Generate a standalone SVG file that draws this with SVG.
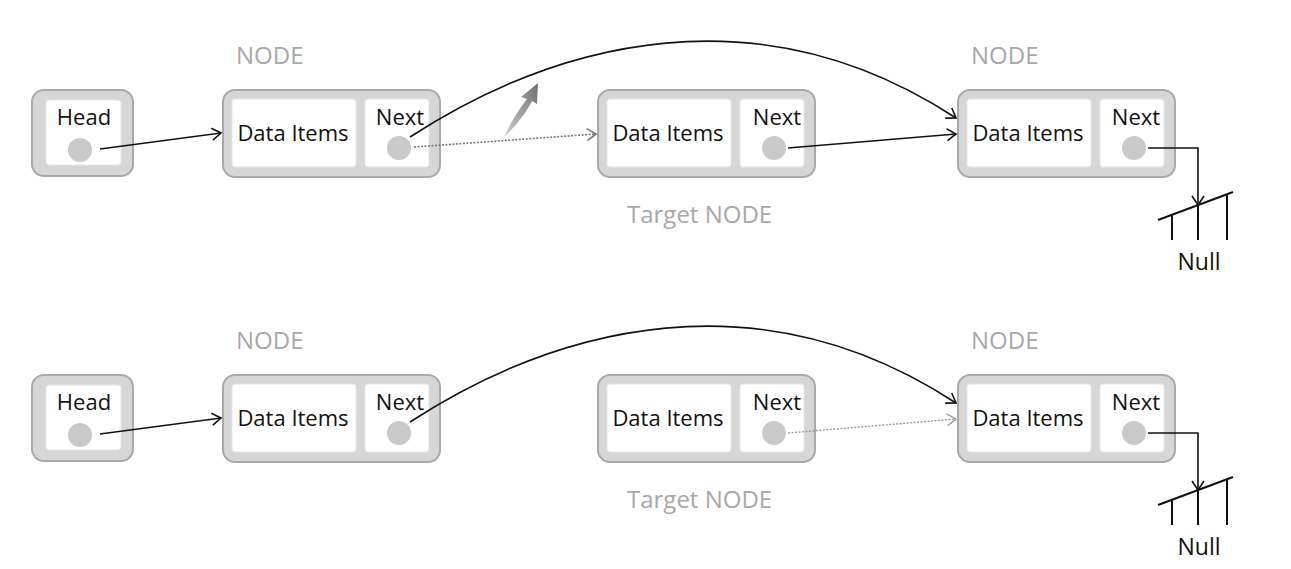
<svg xmlns="http://www.w3.org/2000/svg" width="1291" height="569" viewBox="0 0 1291 569">
<style>
.box{fill:#d6d6d6;stroke:#a9a9a9;stroke-width:2}
.in{fill:#ffffff;stroke:#e6e6e6;stroke-width:1}
.dot{fill:#c9c9c9}
.t{font-family:"Open Sans","Noto Sans",sans-serif;font-size:22px;fill:#111}
.n{font-family:"Open Sans","Noto Sans",sans-serif;font-size:23px;fill:#111}
.lbl{font-family:"Open Sans","Noto Sans",sans-serif;font-size:24px;fill:#a8a8a8}
.c{fill:none;stroke:#111;stroke-width:1.6}
.d{fill:none;stroke:#777;stroke-width:1.6;stroke-dasharray:2 1.5}
.d2{fill:none;stroke:#999;stroke-width:1.4;stroke-dasharray:2 1.5}
.g{fill:none;stroke:#111;stroke-width:2}
</style>
<defs>
<marker id="ah" markerWidth="14" markerHeight="14" refX="11" refY="7" orient="auto" markerUnits="userSpaceOnUse">
<path d="M2,1 L11,7 L2,13" fill="none" stroke="#111" stroke-width="1.6"/>
</marker>
<marker id="ahg" markerWidth="14" markerHeight="14" refX="11" refY="7" orient="auto" markerUnits="userSpaceOnUse">
<path d="M2,1 L11,7 L2,13" fill="none" stroke="#777" stroke-width="1.6"/>
</marker>
<marker id="ahl" markerWidth="14" markerHeight="14" refX="11" refY="7" orient="auto" markerUnits="userSpaceOnUse">
<path d="M2,1 L11,7 L2,13" fill="none" stroke="#999" stroke-width="1.4"/>
</marker>
<linearGradient id="sw" x1="0" y1="1" x2="1" y2="0">
<stop offset="0" stop-color="#cfcfcf"/>
<stop offset="1" stop-color="#6f6f6f"/>
</linearGradient>
</defs>

<!-- top row -->
<g id="top-node-label1"><text class="lbl" x="236" y="64">NODE</text></g>
<g id="top-node-label3"><text class="lbl" x="971" y="64">NODE</text></g>
<g id="top-target-label"><text class="lbl" x="627" y="223">Target NODE</text></g>

<g id="top-head">
<rect class="box" x="32" y="90" width="101" height="86" rx="12"/>
<rect class="in" x="46" y="100" width="75" height="65" rx="3"/>
<text class="t" x="84" y="125" text-anchor="middle">Head</text>
<circle class="dot" cx="80" cy="150" r="12"/>
</g>
<g id="top-node1">
<rect class="box" x="223" y="90" width="217" height="87" rx="12"/>
<rect class="in" x="232" y="99" width="124" height="68" rx="3"/>
<rect class="in" x="365" y="99" width="64" height="68" rx="3"/>
<text class="t" x="293" y="141" text-anchor="middle">Data Items</text>
<text class="t" x="400" y="125" text-anchor="middle">Next</text>
<circle class="dot" cx="399" cy="148" r="12"/>
</g>
<g id="top-target">
<rect class="box" x="598" y="90" width="217" height="87" rx="12"/>
<rect class="in" x="607" y="99" width="124" height="68" rx="3"/>
<rect class="in" x="740" y="99" width="64" height="68" rx="3"/>
<text class="t" x="668" y="141" text-anchor="middle">Data Items</text>
<text class="t" x="777" y="125" text-anchor="middle">Next</text>
<circle class="dot" cx="774" cy="148" r="12"/>
</g>
<g id="top-node3">
<rect class="box" x="958" y="90" width="217" height="87" rx="12"/>
<rect class="in" x="967" y="99" width="124" height="68" rx="3"/>
<rect class="in" x="1100" y="99" width="64" height="68" rx="3"/>
<text class="t" x="1028" y="141" text-anchor="middle">Data Items</text>
<text class="t" x="1136" y="125" text-anchor="middle">Next</text>
<circle class="dot" cx="1134" cy="148" r="12"/>
</g>
<g id="top-null">
<path class="g" d="M1158,220 L1233,192 M1172,215 L1172,240 M1198,205 L1198,240 M1227,195 L1227,240"/>
<text class="n" x="1199" y="270" text-anchor="middle">Null</text>
</g>
<g id="top-swoosh">
<path d="M504,137 C512,120 520,108 527,99 L521,97 L538,83 L537,104 L532,101 C526,113 516,126 504,137 Z" fill="url(#sw)"/>
</g>

<!-- bottom row -->
<g id="bot-node-label1"><text class="lbl" x="236" y="349">NODE</text></g>
<g id="bot-node-label3"><text class="lbl" x="971" y="349">NODE</text></g>
<g id="bot-target-label"><text class="lbl" x="627" y="508">Target NODE</text></g>

<g id="bot-head">
<rect class="box" x="32" y="375" width="101" height="86" rx="12"/>
<rect class="in" x="46" y="385" width="75" height="65" rx="3"/>
<text class="t" x="84" y="410" text-anchor="middle">Head</text>
<circle class="dot" cx="80" cy="435" r="12"/>
</g>
<g id="bot-node1">
<rect class="box" x="223" y="375" width="217" height="87" rx="12"/>
<rect class="in" x="232" y="384" width="124" height="68" rx="3"/>
<rect class="in" x="365" y="384" width="64" height="68" rx="3"/>
<text class="t" x="293" y="426" text-anchor="middle">Data Items</text>
<text class="t" x="400" y="410" text-anchor="middle">Next</text>
<circle class="dot" cx="399" cy="433" r="12"/>
</g>
<g id="bot-target">
<rect class="box" x="598" y="375" width="217" height="87" rx="12"/>
<rect class="in" x="607" y="384" width="124" height="68" rx="3"/>
<rect class="in" x="740" y="384" width="64" height="68" rx="3"/>
<text class="t" x="668" y="426" text-anchor="middle">Data Items</text>
<text class="t" x="777" y="410" text-anchor="middle">Next</text>
<circle class="dot" cx="774" cy="433" r="12"/>
</g>
<g id="bot-node3">
<rect class="box" x="958" y="375" width="217" height="87" rx="12"/>
<rect class="in" x="967" y="384" width="124" height="68" rx="3"/>
<rect class="in" x="1100" y="384" width="64" height="68" rx="3"/>
<text class="t" x="1028" y="426" text-anchor="middle">Data Items</text>
<text class="t" x="1136" y="410" text-anchor="middle">Next</text>
<circle class="dot" cx="1134" cy="433" r="12"/>
</g>
<g id="bot-null">
<path class="g" d="M1158,505 L1233,477 M1172,500 L1172,525 M1198,490 L1198,525 M1227,480 L1227,525"/>
<text class="n" x="1199" y="555" text-anchor="middle">Null</text>
</g>

<g id="connectors">
<!-- top -->
<path class="c" d="M100,149 L221,133" marker-end="url(#ah)"/>
<path class="c" d="M410,137 C560,40 760,-10 956,118" marker-end="url(#ah)"/>
<path class="d" d="M414,147 L596,134" marker-end="url(#ahg)"/>
<path class="c" d="M788,148 L956,134" marker-end="url(#ah)"/>
<path class="c" d="M1148,148 L1198,148 L1198,205" marker-end="url(#ah)"/>
<!-- bottom -->
<path class="c" d="M100,434 L221,418" marker-end="url(#ah)"/>
<path class="c" d="M410,422 C560,325 760,275 956,403" marker-end="url(#ah)"/>
<path class="d2" d="M788,433 L956,419" marker-end="url(#ahl)"/>
<path class="c" d="M1148,433 L1198,433 L1198,490" marker-end="url(#ah)"/>
</g>
</svg>
